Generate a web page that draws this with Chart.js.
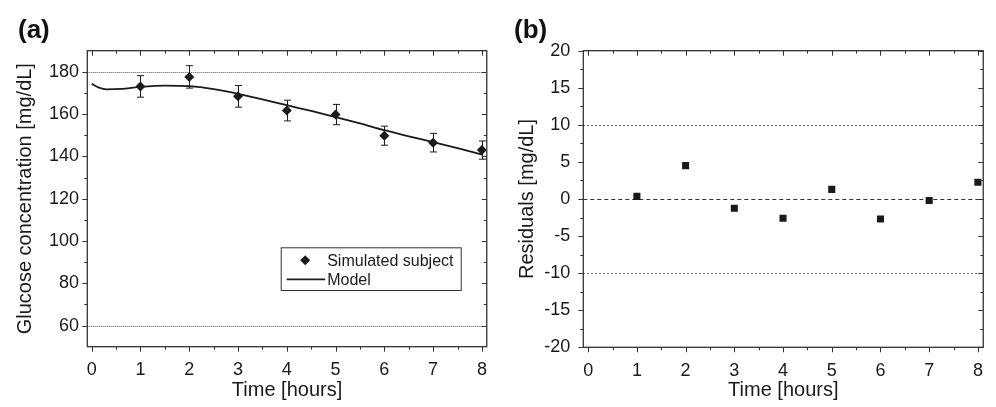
<!DOCTYPE html>
<html lang="en">
<head>
<meta charset="UTF-8">
<title>Glucose model fit and residuals</title>
<script src="https://cdn.jsdelivr.net/npm/chart.js@4.4.1/dist/chart.umd.min.js"></script>
<style>
  html, body { margin: 0; padding: 0; background: #fff; }
  body { width: 996px; height: 407px; position: relative; overflow: hidden; font-family: 'Liberation Sans', Arial, sans-serif; }
  .panel { position: absolute; top: 0; height: 407px; }
  #panelA { left: 0; width: 500px; }
  #panelB { left: 500px; width: 496px; }
  .tag { position: absolute; top: 15px; font-weight: bold; font-size: 26px; line-height: 28px; color: #111; }
</style>
</head>
<body>
  <div class="panel" id="panelA"><canvas id="chartA"></canvas></div>
  <div class="panel" id="panelB"><canvas id="chartB"></canvas></div>
  <div class="tag" style="left:18px">(a)</div>
  <div class="tag" style="left:514px">(b)</div>
<script>
// ---- data ----
const hours = [1, 2, 3, 4, 5, 6, 7, 8];
const glucose = [173.1, 177.6, 168.4, 161.7, 159.8, 149.8, 146.5, 143.0];
const glucoseErr = [5.1, 5.3, 5.1, 4.9, 4.8, 4.5, 4.4, 4.3];
const modelTime = [0, 0.15, 0.3, 0.6, 1, 1.5, 2, 2.5, 3, 3.5, 4, 4.5, 5, 5.5, 6, 6.5, 7, 7.5, 8];
const modelGlucose = [174.3, 172.5, 171.7, 171.9, 172.9, 173.5, 173.2, 171.8, 169.6, 167.0, 164.2, 161.5, 158.6, 155.6, 152.4, 149.5, 146.8, 143.9, 140.9];
const residuals = [0.35, 4.5, -1.25, -2.6, 1.3, -2.7, -0.2, 2.25];

const glucoseLimits = [60, 180];
const residualLimits = [-10, 10];
const residualZero = [0];

const hourTicks = [0, 1, 2, 3, 4, 5, 6, 7, 8];
const hourMinor = [0.5, 1.5, 2.5, 3.5, 4.5, 5.5, 6.5, 7.5];
const glucoseTicks = [60, 80, 100, 120, 140, 160, 180];
const glucoseMinor = [70, 90, 110, 130, 150, 170];
const residualTicks = [-20, -15, -10, -5, 0, 5, 10, 15, 20];
const residualMinor = [-17.5, -12.5, -7.5, -2.5, 2.5, 7.5, 12.5, 17.5];

Chart.defaults.font.family = "'Liberation Sans', Arial, sans-serif";
Chart.defaults.color = '#1a1a1a';
Chart.defaults.animation = false;

const INK = '#1a1a1a';
const AXIS = '#333';

// frame, mirrored/minor ticks, reference lines, error bars, legend
const frame = {
  id: 'frame',
  beforeDatasetsDraw(chart, args, opts) {
    const { ctx, chartArea: a, scales: { x, y } } = chart;
    ctx.save();
    (opts.refLines || []).forEach(r => {
      ctx.strokeStyle = r.color;
      ctx.lineWidth = r.width;
      ctx.setLineDash(r.dash);
      r.values.forEach(v => {
        const py = Math.round(y.getPixelForValue(v)) + 0.5;
        ctx.beginPath();
        ctx.moveTo(a.left, py);
        ctx.lineTo(a.right, py);
        ctx.stroke();
      });
    });
    ctx.setLineDash([]);
    if (opts.errorBars) {
      const eb = opts.errorBars;
      ctx.strokeStyle = INK;
      ctx.lineWidth = 1;
      ctx.beginPath();
      eb.x.forEach((xv, i) => {
        const px = Math.round(x.getPixelForValue(xv)) + 0.5;
        const top = y.getPixelForValue(eb.y[i] + eb.err[i]);
        const bot = y.getPixelForValue(eb.y[i] - eb.err[i]);
        ctx.moveTo(px, top); ctx.lineTo(px, bot);
        ctx.moveTo(px - 3.5, top); ctx.lineTo(px + 3.5, top);
        ctx.moveTo(px - 3.5, bot); ctx.lineTo(px + 3.5, bot);
      });
      ctx.stroke();
    }
    ctx.restore();
  },
  afterDraw(chart, args, opts) {
    const { ctx, chartArea: a, scales: { x, y } } = chart;
    ctx.save();
    ctx.strokeStyle = AXIS;
    ctx.lineWidth = 1.3;
    ctx.strokeRect(a.left, a.top, a.right - a.left, a.bottom - a.top);

    ctx.lineWidth = 1;
    ctx.beginPath();
    const xt = (vals, len) => vals.forEach(v => {
      const px = Math.round(x.getPixelForValue(v)) + 0.5;
      ctx.moveTo(px, a.bottom); ctx.lineTo(px, a.bottom + len);   // bottom, outward
      ctx.moveTo(px, a.top); ctx.lineTo(px, a.top + len);         // top, inward
    });
    const yt = (vals, len) => vals.forEach(v => {
      const py = Math.round(y.getPixelForValue(v)) + 0.5;
      ctx.moveTo(a.left, py); ctx.lineTo(a.left - len, py);       // left, outward
      ctx.moveTo(a.right, py); ctx.lineTo(a.right - len, py);     // right, inward
    });
    xt(opts.xMajor, 5); xt(opts.xMinor, 3);
    yt(opts.yMajor, 5); yt(opts.yMinor, 3);
    ctx.stroke();

    if (opts.legend) {
      const L = opts.legend;
      const lx = a.left + L.dx, ly = a.top + L.dy;
      const ds = chart.data.datasets;
      ctx.fillStyle = '#fff';
      ctx.fillRect(lx, ly, L.w, L.h);
      ctx.strokeStyle = AXIS;
      ctx.lineWidth = 1;
      ctx.strokeRect(lx + 0.5, ly + 0.5, L.w, L.h);
      ctx.font = "16px 'Liberation Sans', Arial, sans-serif";
      ctx.textBaseline = 'middle';
      ctx.fillStyle = INK;
      // diamond item
      const r = ds[0].pointRadius;
      const mx = lx + 24.5, my = ly + 13;
      ctx.beginPath();
      ctx.moveTo(mx - r, my); ctx.lineTo(mx, my - r); ctx.lineTo(mx + r, my); ctx.lineTo(mx, my + r);
      ctx.closePath();
      ctx.fill();
      ctx.fillText(ds[0].label, lx + 46.5, my + 1);
      // line item
      const ry = ly + 32;
      ctx.strokeStyle = INK;
      ctx.lineWidth = ds[1].borderWidth;
      ctx.beginPath();
      ctx.moveTo(lx + 6, ry); ctx.lineTo(lx + 44.5, ry);
      ctx.stroke();
      ctx.fillText(ds[1].label, lx + 46.5, ry + 1);
    }
    ctx.restore();
  }
};

function fixedTicks(list) {
  return scale => { scale.ticks = list.map(v => ({ value: v })); };
}

const tickFont = { size: 18 };
const titleFont = { size: 20 };
const noGrid = { display: false, drawTicks: false };

// ---- panel (a) ----
new Chart(document.getElementById('chartA'), {
  type: 'scatter',
  data: {
    datasets: [
      {
        label: 'Simulated subject',
        data: hours.map((h, i) => ({ x: h, y: glucose[i] })),
        pointStyle: 'rectRot',
        pointRadius: 5,
        pointBackgroundColor: INK,
        pointBorderWidth: 0,
        order: 0
      },
      {
        label: 'Model',
        data: modelTime.map((t, i) => ({ x: t, y: modelGlucose[i] })),
        showLine: true,
        borderColor: INK,
        borderWidth: 1.8,
        pointRadius: 0,
        cubicInterpolationMode: 'monotone',
        order: 1
      }
    ]
  },
  options: {
    responsive: true,
    maintainAspectRatio: false,
    layout: { padding: { top: 50.7, right: 8.3, left: 0, bottom: 0 } },
    plugins: {
      legend: { display: false },
      tooltip: { enabled: false },
      frame: {
        xMajor: hourTicks, xMinor: hourMinor,
        yMajor: glucoseTicks, yMinor: glucoseMinor,
        refLines: [{ values: glucoseLimits, color: '#555', width: 1, dash: [1, 1] }],
        errorBars: { x: hours, y: glucose, err: glucoseErr },
        legend: { dx: 193.4, dy: 196.6, w: 180, h: 42.7 }
      }
    },
    scales: {
      x: {
        type: 'linear', min: -0.09, max: 8.1,
        afterBuildTicks: fixedTicks(hourTicks),
        afterFit: s => { s.height = 60.3; },
        grid: noGrid, border: { display: false },
        ticks: { font: tickFont, padding: 13, color: INK },
        title: { display: true, text: 'Time [hours]', font: titleFont, color: INK, padding: { top: 0, bottom: 5 } }
      },
      y: {
        min: 50, max: 190,
        afterBuildTicks: fixedTicks(glucoseTicks),
        afterFit: s => { s.width = 87.3; },
        grid: noGrid, border: { display: false },
        ticks: { font: tickFont, padding: 8.3, color: INK },
        title: { display: true, text: 'Glucose concentration [mg/dL]', font: titleFont, color: INK, padding: { top: 13, bottom: 0 } }
      }
    }
  },
  plugins: [frame]
});

// ---- panel (b) ----
new Chart(document.getElementById('chartB'), {
  type: 'scatter',
  data: {
    datasets: [
      {
        label: 'Residuals',
        data: hours.map((h, i) => ({ x: h, y: residuals[i] })),
        pointStyle: 'rect',
        pointRadius: 5,
        pointBackgroundColor: INK,
        pointBorderWidth: 0
      }
    ]
  },
  options: {
    responsive: true,
    maintainAspectRatio: false,
    layout: { padding: { top: 50.7, right: 7.7, left: 0, bottom: 0 } },
    plugins: {
      legend: { display: false },
      tooltip: { enabled: false },
      frame: {
        xMajor: hourTicks, xMinor: hourMinor,
        yMajor: residualTicks, yMinor: residualMinor,
        refLines: [
          { values: residualLimits, color: '#333', width: 1, dash: [1.5, 2.5] },
          { values: residualZero, color: '#333', width: 1, dash: [4, 3] }
        ]
      }
    },
    scales: {
      x: {
        type: 'linear', min: -0.1, max: 8.11,
        afterBuildTicks: fixedTicks(hourTicks),
        afterFit: s => { s.height = 59.7; },
        grid: noGrid, border: { display: false },
        ticks: { font: tickFont, padding: 13, color: INK },
        title: { display: true, text: 'Time [hours]', font: titleFont, color: INK, padding: { top: 0, bottom: 5 } }
      },
      y: {
        min: -20, max: 20,
        afterBuildTicks: fixedTicks(residualTicks),
        afterFit: s => { s.width = 83.3; },
        grid: noGrid, border: { display: false },
        ticks: { font: tickFont, padding: 13, color: INK },
        title: { display: true, text: 'Residuals [mg/dL]', font: titleFont, color: INK, padding: { top: 15, bottom: 0 } }
      }
    }
  },
  plugins: [frame]
});
</script>
</body>
</html>
